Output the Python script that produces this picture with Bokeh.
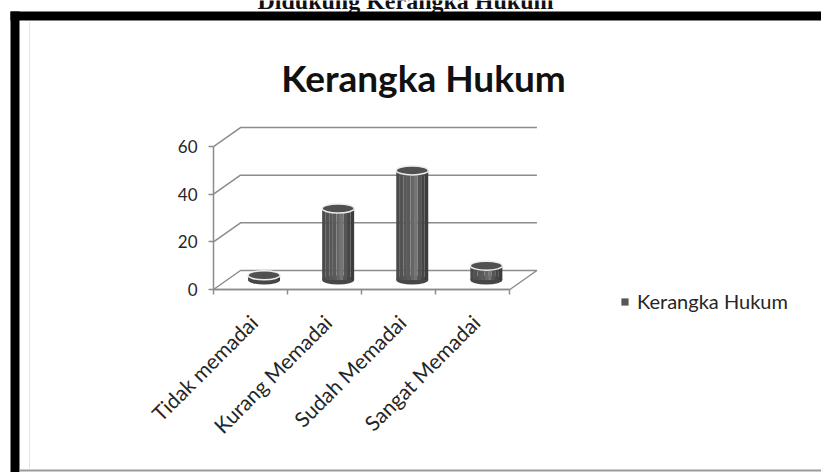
import numpy as np
from bokeh.plotting import figure
from bokeh.models import (Range1d, LinearAxis, FixedTicker, Label, BoxAnnotation,
                          Legend, LegendItem)
from bokeh.core.properties import value
from bokeh.embed import file_html
from bokeh.resources import INLINE

# ---------------- data ----------------
categories = ["Tidak memadai", "Kurang Memadai", "Sudah Memadai", "Sangat Memadai"]
values = [2, 30, 46, 6]
y_ticks = [0, 20, 40, 60]
series_name = "Kerangka Hukum"
chart_title = "Kerangka Hukum"
header_text = "Didukung Kerangka Hukum"

# ---------------- layout (pixels) ----------------
W, H = 821, 472
X0, Y0 = 213, 289          # canvas px of first category boundary / value 0 (front)
PX_CAT = 74.1              # px per category
PX_VAL = 2.383             # px per value unit
DEPTH_X, DEPTH_Y = 27, 19  # 3-D depth offset in px

dx = DEPTH_X / PX_CAT
dy = DEPTH_Y / PX_VAL
n = len(categories)

p = figure(width=W, height=H,
           x_range=Range1d(-X0 / PX_CAT, (W - X0) / PX_CAT),
           y_range=Range1d(-(H - Y0) / PX_VAL, Y0 / PX_VAL),
           output_backend="svg", toolbar_location=None, tools="",
           x_axis_type=None, y_axis_type=None, min_border=0,
           outline_line_color=None, background_fill_color="white",
           border_fill_color="white")

GRID = "#8c8c8c"
TXT = "#262626"

# floor
p.patch([0, n, n + dx, dx], [0, 0, dy, dy], fill_color="white",
        line_color=GRID, line_width=1.5)
# side / back wall gridlines
gv = y_ticks[1:]
p.multi_line([[0, dx, n + dx] for v in gv], [[v, v + dy, v + dy] for v in gv],
             line_color=GRID, line_width=1.5)

# axes
yaxis = LinearAxis(fixed_location=0, bounds=(y_ticks[0], y_ticks[-1]),
                   ticker=FixedTicker(ticks=y_ticks, minor_ticks=[]),
                   axis_line_color=GRID, axis_line_width=1.5,
                   major_tick_line_color=GRID, major_tick_line_width=1.5,
                   major_tick_out=5, major_tick_in=0, minor_tick_out=0, minor_tick_in=0,
                   major_label_standoff=11,
                   major_label_text_font="Lato", major_label_text_font_size="17px",
                   major_label_text_color=TXT)
p.add_layout(yaxis, "left")

bticks = list(range(n + 1))
xaxis = LinearAxis(fixed_location=0, bounds=(0, n),
                   ticker=FixedTicker(ticks=bticks, minor_ticks=[]),
                   major_label_overrides={t: "" for t in bticks},
                   axis_line_color=GRID, axis_line_width=1.5,
                   major_tick_line_color=GRID, major_tick_line_width=1.5,
                   major_tick_out=5, major_tick_in=0, minor_tick_out=0, minor_tick_in=0)
p.add_layout(xaxis, "below")

# cylinders
xc = np.arange(n) + 0.5 + dx / 2
base = dy / 2
cyl_w = 32 / PX_CAT
ell_h = 9 / PX_VAL
tops = base + np.array(values, dtype=float)

p.ellipse(x=xc, y=[base] * n, width=cyl_w, height=ell_h,
          fill_color="#474747", line_color=None)
shades = ["#4a4a4a", "#525252", "#575757", "#5a5a5a", "#666666", "#747474",
          "#555555", "#464646", "#3c3c3c"]
k = len(shades)
strip_renderers = []
for j, c in enumerate(shades):
    left = xc - cyl_w / 2 + j * cyl_w / k
    r = p.quad(left=left, right=left + cyl_w / k, bottom=[base] * n, top=tops,
               fill_color=c, line_color=None)
    strip_renderers.append(r)
p.ellipse(x=xc, y=tops, width=cyl_w, height=ell_h,
          fill_color="#505050", line_color="#ececec", line_width=1.5)

# category labels
p.text(x=np.arange(n) + 0.5, y=[0] * n, text=categories, angle=np.pi / 4,
       text_align="right", text_baseline="middle", x_offset=3, y_offset=29,
       text_font=value("Lato"), text_font_size="21px", text_color=TXT)

# legend (uses the cylinder body colour)
legend = Legend(items=[LegendItem(label=series_name, renderers=[strip_renderers[2]])],
                location=(620, 159), padding=0, margin=0, spacing=0,
                glyph_width=9, glyph_height=9, label_standoff=8, label_height=9,
                label_text_font="Lato", label_text_font_size="20px",
                label_text_color=TXT, label_text_baseline="middle",
                border_line_color=None, background_fill_alpha=0)
p.add_layout(legend, "center")

# titles
p.add_layout(Label(x=423, y=H - 77, x_units="screen", y_units="screen",
                   text=chart_title, text_align="center", text_baseline="alphabetic",
                   text_font="Lato", text_font_style="bold", text_font_size="37px",
                   text_color="#111111"))
p.add_layout(Label(x=405, y=H, x_units="screen", y_units="screen",
                   text=header_text, text_align="center", text_baseline="alphabetic",
                   text_font="Liberation Serif", text_font_style="bold",
                   text_font_size="24px", text_color="#111111"))

# chart frame border
def sbox(l, r, b, t, color):
    return BoxAnnotation(left=l, right=r, bottom=b, top=t,
                         left_units="screen", right_units="screen",
                         bottom_units="screen", top_units="screen",
                         fill_color=color, fill_alpha=1, line_alpha=0)

p.add_layout(sbox(28.5, 29.5, 4, H - 21, "#e4e4e4"))
p.add_layout(sbox(10, 19, 0, H - 11, "black"))
p.add_layout(sbox(10, W, H - 20, H - 11, "black"))
p.add_layout(sbox(19, W, 1, 3, "#9a9a9a"))

open("out.html", "w").write(file_html(p, INLINE))
